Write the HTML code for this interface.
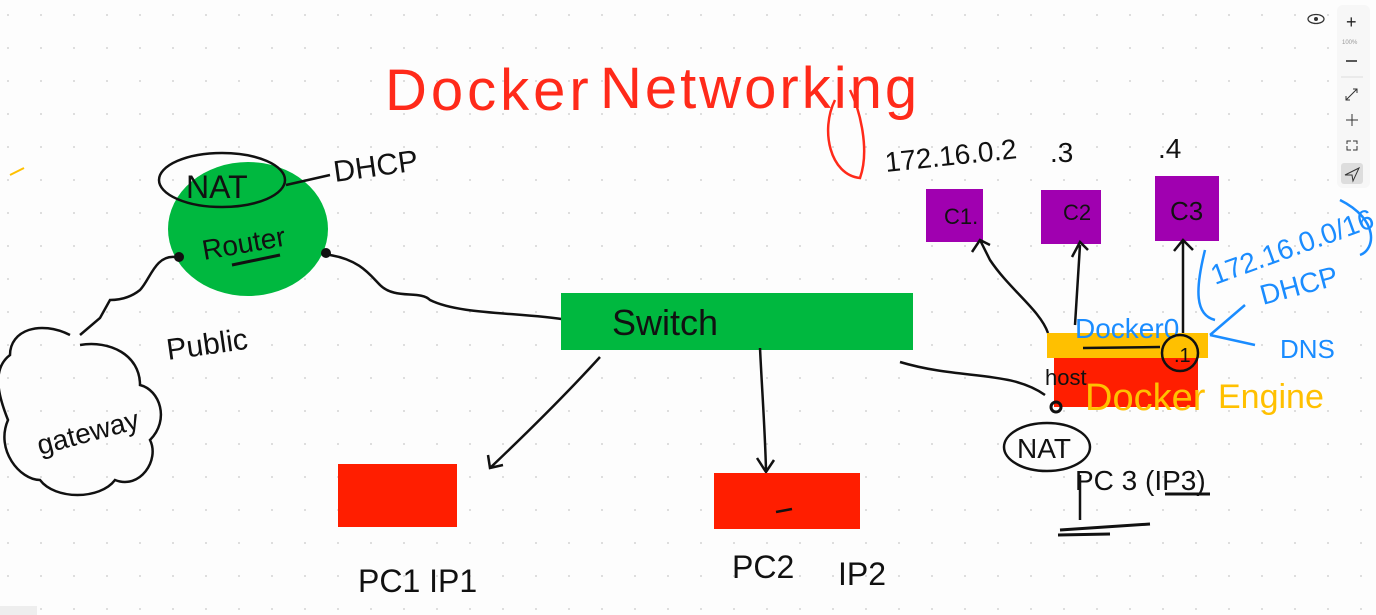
<!DOCTYPE html>
<html><head><meta charset="utf-8"><style>
html,body{margin:0;padding:0;background:#fff;}
svg{display:block;}
text{font-family:"Liberation Sans",sans-serif;}
</style></head><body>
<svg width="1376" height="615" viewBox="0 0 1376 615" xmlns="http://www.w3.org/2000/svg">
<defs><pattern id="g" width="33" height="33" patternUnits="userSpaceOnUse" x="-1" y="-1"><circle cx="9" cy="16" r="1" fill="#d4d4d4"/></pattern></defs>
<rect width="1376" height="615" fill="#fdfdfd"/>
<rect width="1376" height="615" fill="url(#g)"/>
<!-- title -->
<text x="385" y="110" font-size="58" fill="#ff2a1a" font-weight="300" letter-spacing="4">Docker</text>
<text x="600" y="108" font-size="58" fill="#ff2a1a" letter-spacing="3">Networking</text>
<path d="M835 100 C820 130 830 175 860 178 C870 150 860 110 850 90" fill="none" stroke="#ff2a1a" stroke-width="2.5"/>
<line x1="10" y1="175" x2="24" y2="168" stroke="#ffc000" stroke-width="2"/>
<!-- router -->
<ellipse cx="248" cy="229" rx="80" ry="67" fill="#00b83f"/>
<ellipse cx="222" cy="180" rx="63" ry="27" fill="none" stroke="#111" stroke-width="2.5"/>
<text x="186" y="198" font-size="32" fill="#111">NAT</text>
<text x="204" y="260" font-size="28" fill="#111" transform="rotate(-10 204 260)">Router</text>
<line x1="232" y1="265" x2="280" y2="255" stroke="#111" stroke-width="3"/>
<path d="M286 185 L330 175" stroke="#111" stroke-width="2.5" fill="none"/>
<text x="335" y="182" font-size="30" fill="#111" transform="rotate(-8 335 182)">DHCP</text>
<circle cx="179" cy="257" r="5" fill="#111"/><circle cx="326" cy="253" r="5" fill="#111"/>
<path d="M175 257 C155 255 150 280 140 290 C130 298 120 300 110 300 L100 318 L80 335" fill="none" stroke="#111" stroke-width="2.5"/>
<path d="M330 255 C360 260 370 275 380 285 C395 300 420 290 430 300 C460 315 520 312 568 320" fill="none" stroke="#111" stroke-width="2.5"/>
<text x="168" y="360" font-size="30" fill="#111" transform="rotate(-8 168 360)">Public</text>
<!-- cloud -->
<path d="M70 335 C40 320 10 330 10 355 C-10 370 0 400 8 420 C-5 450 20 480 40 480 C55 500 100 500 115 480 C140 490 160 460 150 440 C170 420 160 390 140 385 C140 355 110 340 80 345" fill="none" stroke="#111" stroke-width="2.5"/>
<text x="40" y="455" font-size="28" fill="#111" transform="rotate(-15 40 455)">gateway</text>
<!-- switch -->
<rect x="561" y="293" width="352" height="57" fill="#00b83f"/>
<text x="612" y="335" font-size="36" fill="#111">Switch</text>
<path d="M600 357 C570 390 530 430 490 468 M488 455 L490 468 L503 465" fill="none" stroke="#111" stroke-width="2.5"/>
<path d="M760 348 C762 390 765 430 766 470 M757 458 L766 472 L774 460" fill="none" stroke="#111" stroke-width="2.5"/>
<path d="M900 362 C960 380 1010 370 1045 395" fill="none" stroke="#111" stroke-width="2.5"/>
<rect x="338" y="464" width="119" height="63" fill="#ff1e00"/>
<rect x="714" y="473" width="146" height="56" fill="#ff1e00"/>
<line x1="776" y1="512" x2="792" y2="509" stroke="#111" stroke-width="2.5"/>
<text x="358" y="592" font-size="32" fill="#111">PC1  IP1</text>
<text x="732" y="578" font-size="32" fill="#111">PC2</text>
<text x="838" y="585" font-size="32" fill="#111">IP2</text>
<!-- containers -->
<text x="886" y="172" font-size="28" fill="#111" transform="rotate(-6 886 172)">172.16.0.2</text>
<text x="1050" y="162" font-size="28" fill="#111">.3</text>
<text x="1158" y="158" font-size="28" fill="#111">.4</text>
<rect x="926" y="189" width="57" height="53" fill="#a000b0"/>
<rect x="1041" y="190" width="60" height="54" fill="#a000b0"/>
<rect x="1155" y="176" width="64" height="65" fill="#a000b0"/>
<text x="944" y="224" font-size="22" fill="#111">C1.</text>
<text x="1063" y="220" font-size="22" fill="#111">C2</text>
<text x="1170" y="220" font-size="26" fill="#111">C3</text>
<path d="M1048 333 C1040 310 1010 290 990 260 L980 240 M972 252 L980 240 L990 245" fill="none" stroke="#111" stroke-width="2.5"/>
<path d="M1075 325 L1080 245 M1072 257 L1080 242 L1088 250" fill="none" stroke="#111" stroke-width="2.5"/>
<path d="M1183 338 L1183 240 M1174 251 L1183 240 L1193 250" fill="none" stroke="#111" stroke-width="2.5"/>
<rect x="1047" y="333" width="161" height="25" fill="#ffc000"/>
<rect x="1054" y="358" width="144" height="49" fill="#ff1e00"/>
<text x="1075" y="338" font-size="28" fill="#1a8cff">Docker0</text>
<line x1="1083" y1="348" x2="1160" y2="347" stroke="#111" stroke-width="2.5"/>
<circle cx="1180" cy="353" r="18" fill="none" stroke="#111" stroke-width="2.5"/>
<text x="1174" y="362" font-size="20" fill="#111">.1</text>
<text x="1045" y="385" font-size="22" fill="#111">host</text>
<text x="1085" y="410" font-size="38" fill="#ffc000">Docker</text>
<text x="1218" y="408" font-size="34" fill="#ffc000">Engine</text>
<circle cx="1056" cy="407" r="5" fill="none" stroke="#111" stroke-width="3"/>
<ellipse cx="1047" cy="447" rx="43" ry="24" fill="none" stroke="#111" stroke-width="2.5"/>
<text x="1017" y="458" font-size="28" fill="#111">NAT</text>
<text x="1075" y="490" font-size="28" fill="#111">PC 3  (IP3)</text>
<line x1="1080" y1="475" x2="1080" y2="520" stroke="#111" stroke-width="2.5"/>
<path d="M1060 530 L1150 524 M1058 535 L1110 534" stroke="#111" stroke-width="3"/>
<path d="M1165 494 L1210 494" stroke="#111" stroke-width="3"/>
<!-- blue annotations -->
<text x="1215" y="285" font-size="28" fill="#1a8cff" transform="rotate(-20 1215 285)">172.16.0.0/16</text>
<text x="1263" y="305" font-size="28" fill="#1a8cff" transform="rotate(-15 1263 305)">DHCP</text>
<text x="1280" y="358" font-size="26" fill="#1a8cff">DNS</text>
<path d="M1205 250 C1195 290 1195 315 1215 320 M1340 200 C1380 220 1375 250 1360 255 M1210 335 L1245 305 M1210 335 L1255 345" fill="none" stroke="#1a8cff" stroke-width="2.5"/>
<!-- toolbar -->
<rect x="1337" y="5" width="33" height="183" rx="6" fill="#f7f7f7"/>
<text x="1346" y="28" font-size="18" fill="#222">+</text>
<text x="1342" y="44" font-size="6" fill="#999">100%</text>
<line x1="1346" y1="61" x2="1357" y2="61" stroke="#222" stroke-width="1.5"/>
<line x1="1341" y1="77" x2="1363" y2="77" stroke="#ddd"/>
<path d="M1346 100 L1357 89 M1353 89 L1357 89 L1357 93 M1346 96 L1346 100 L1350 100" stroke="#333" fill="none"/>
<path d="M1352 114 L1352 126 M1346 120 L1358 120" stroke="#333"/>
<path d="M1347 146 L1347 150 L1351 150 M1357 146 L1357 150 L1353 150 M1347 144 L1347 141 L1351 141 M1357 144 L1357 141 L1353 141" stroke="#333" fill="none"/>
<rect x="1341" y="163" width="22" height="21" rx="3" fill="#ddd"/>
<path d="M1345 175 L1359 168 L1353 181 L1352 175 Z" fill="none" stroke="#333"/>
<ellipse cx="1316" cy="19" rx="8" ry="4.5" fill="none" stroke="#333" stroke-width="1.3"/><circle cx="1316" cy="19" r="2" fill="#333"/>
<rect x="0" y="606" width="37" height="9" fill="#eee"/>
</svg>
</body></html>
